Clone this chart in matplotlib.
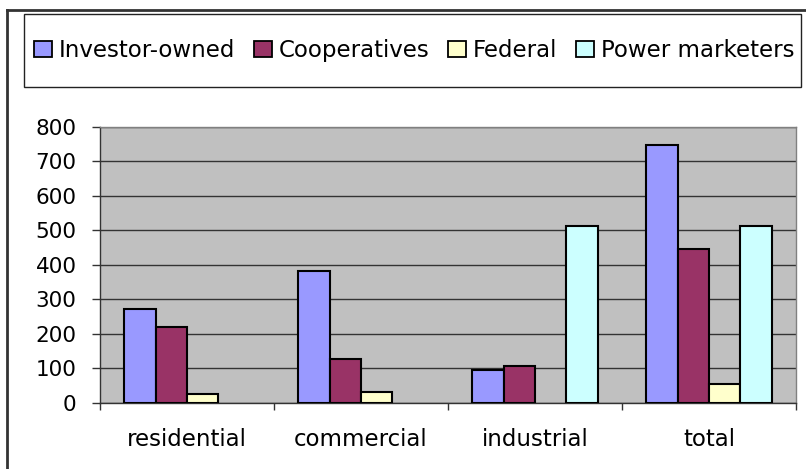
import matplotlib.pyplot as plt
import numpy as np
from matplotlib.patches import Rectangle
from matplotlib.lines import Line2D

plt.rcParams['font.family'] = ['DejaVu Sans']

categories = ['residential', 'commercial', 'industrial', 'total']
series = ['Investor-owned', 'Cooperatives', 'Federal', 'Power marketers']
investor_owned = [271, 382, 95, 749]
cooperatives = [220, 125, 105, 447]
federal = [25, 30, 0, 54]
power_marketers = [0, 0, 512, 512]
colors = ['#9999FF', '#993366', '#FFFFCC', '#CCFFFF']
y_ticks = [0, 100, 200, 300, 400, 500, 600, 700, 800]

fig = plt.figure(figsize=(8.06, 4.69), dpi=100)
ax = fig.add_axes([100 / 806, 1 - 402.5 / 469, 696 / 806, 275.5 / 469])

# outer chart frame (runs off the right and bottom edges)
fig.add_artist(Line2D([7.5 / 806, 7.5 / 806], [0, 1 - 10.5 / 469], transform=fig.transFigure,
                      color='#333333', lw=2))
fig.add_artist(Line2D([7.5 / 806, 1], [1 - 10.5 / 469, 1 - 10.5 / 469], transform=fig.transFigure,
                      color='#333333', lw=2))

# legend box
fig.add_artist(Rectangle((24 / 806, 1 - 87 / 469), 777 / 806, 73 / 469, transform=fig.transFigure,
                         facecolor='white', edgecolor='#222222', lw=1))

x = np.arange(len(categories))
w = 0.18
all_values = [investor_owned, cooperatives, federal, power_marketers]
handles = []
for i, (name, vals) in enumerate(zip(series, all_values)):
    b = ax.bar(x + (i - 1.5) * w, vals, width=w, color=colors[i], edgecolor='black',
               linewidth=1.5, label=name, zorder=3)
    for rect, v in zip(b, vals):
        if v == 0:
            rect.set_visible(False)
    handles.append(Rectangle((0, 0), 1, 1, facecolor=colors[i], edgecolor='black', lw=1.3))

ax.set_facecolor('#C0C0C0')
ax.set_xlim(-0.5, 3.5)
ax.set_ylim(0, 800)
ax.set_yticks(y_ticks)
ax.yaxis.grid(True, color='#333333', lw=1, zorder=1)
ax.set_axisbelow(True)

ax.set_xticks(x)
ax.set_xticklabels(categories, fontsize=16.5)
ax.tick_params(axis='x', length=0, pad=18)
ax.set_xticks(np.arange(-0.5, 4, 1), minor=True)
ax.tick_params(axis='x', which='minor', length=5, width=1, color='#333333', direction='out')
ax.tick_params(axis='y', length=5.8, width=1, color='#333333', labelsize=15.5, pad=11)

for s in ['top', 'right']:
    ax.spines[s].set_color('#808080')
    ax.spines[s].set_linewidth(1)
for s in ['left', 'bottom']:
    ax.spines[s].set_color('#333333')
    ax.spines[s].set_linewidth(1)

fig.legend(handles, series, loc='center', bbox_to_anchor=(414 / 806, 1 - 50.5 / 469),
           ncol=4, frameon=False, fontsize=16.5, handlelength=0.8, handleheight=0.65,
           handletextpad=0.3, columnspacing=0.8)

fig.savefig('out.png', dpi=100)
